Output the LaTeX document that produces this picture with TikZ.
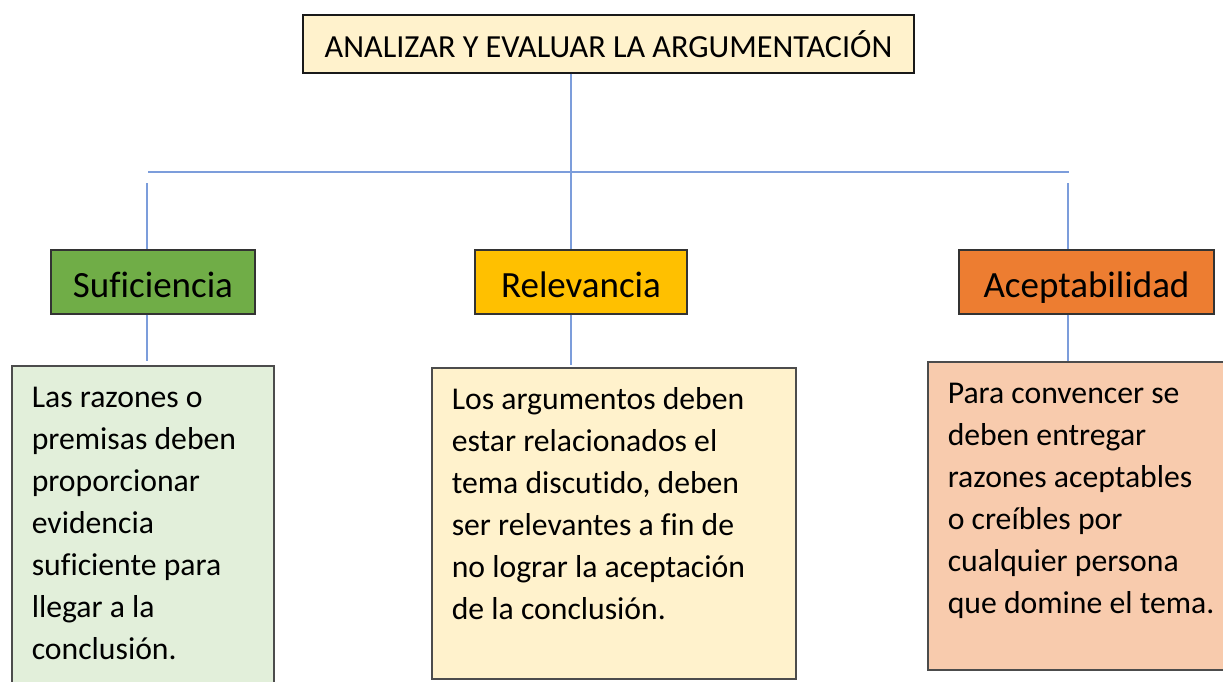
\documentclass[tikz,border=0pt]{standalone}
\usepackage{fontspec}
\setmainfont{Carlito}[Ligatures=NoCommon]
\usepackage{xcolor}
\usetikzlibrary{positioning, calc}

\definecolor{crema}{HTML}{FFF2CC}
\definecolor{verde}{HTML}{70AD47}
\definecolor{verdeclaro}{HTML}{E2EFDA}
\definecolor{ambar}{HTML}{FFC000}
\definecolor{naranja}{HTML}{ED7D31}
\definecolor{salmon}{HTML}{F8CBAD}
\definecolor{azullinea}{HTML}{7C9DDB}

\tikzset{
    % caja del titulo
    titulo/.style={
        rectangle,
        draw=black!90,
        line width=1.4pt,
        fill=crema,
        minimum width=611pt,
        minimum height=58pt,
        inner sep=0pt,
        font=\fontsize{32.2}{38}\selectfont
    },
    % cajas de las categorias
    categoria/.style={
        rectangle,
        draw=black!80,
        line width=1.3pt,
        minimum height=64pt,
        inner sep=0pt,
        text height=33pt,       % texto un poco bajo el centro
        text depth=2pt,
        font=\fontsize{37}{44}\selectfont
    },
    % cajas con la explicacion (texto arriba a la izquierda)
    cuerpo/.style={
        rectangle,
        draw=black!70,
        line width=1.6pt,
        anchor=north west,
        inner xsep=20pt,
        inner ysep=12pt,
        font=\fontsize{31.7}{42}\selectfont
    },
    % lineas de conexion
    linea/.style={
        draw=azullinea,
        line width=1.8pt
    }
}

\begin{document}
\begin{tikzpicture}[x=1pt, y=-1pt]
    \useasboundingbox (0,0) rectangle (1223,682);

    % Titulo
    \node[titulo] (tit) at (608.5,44) {ANALIZAR Y EVALUAR LA ARGUMENTACIÓN};

    % Categorias
    \node[categoria, fill=verde, minimum width=204pt] (suf) at (153,282) {Suficiencia};
    \node[categoria, fill=ambar, minimum width=212pt] (rel) at (581,282) {Relevancia};
    \node[categoria, fill=naranja, minimum width=255pt] (acep) at (1086.5,282) {Aceptabilidad};

    % Explicaciones
    \node[cuerpo, fill=verdeclaro] (tsuf) at (11,365) {\parbox[t][316pt][t]{222pt}{\strut Las razones o\\ premisas deben\\ proporcionar\\ evidencia\\ suficiente para\\ llegar a la\\ conclusión.}};
    \node[cuerpo, fill=crema] (trel) at (431,367) {\parbox[t][287pt][t]{324pt}{\strut Los argumentos deben\\ estar relacionados el\\ tema discutido, deben\\ ser relevantes a fin de\\ no lograr la aceptación\\ de la conclusión.}};
    \node[cuerpo, fill=salmon] (tacep) at (927,361) {\parbox[t][284pt][t]{280pt}{\strut Para convencer se\\ deben entregar\\ razones aceptables\\ o creíbles por\\ cualquier persona\\ que domine el tema.}};

    % Lineas
    \coordinate (eje) at (571,172);
    \coordinate (ramaizq) at (148,172);
    \coordinate (ramader) at (1069,172);
    \coordinate (xizq) at (147,183);
    \coordinate (xder) at (1068,183);
    \draw[linea] (tit.south -| eje) -- (rel.north -| eje);
    \draw[linea] (ramaizq) -- (ramader);
    \draw[linea] (xizq) -- (suf.north -| xizq);
    \draw[linea] (xder) -- (acep.north -| xder);

    \draw[linea, shorten >=4pt] (suf.south -| xizq) -- (tsuf.north -| xizq);
    \draw[linea, shorten >=2pt] (rel.south -| eje) -- (trel.north -| eje);
    \draw[linea] (acep.south -| xder) -- (tacep.north -| xder);

\end{tikzpicture}
\end{document}
